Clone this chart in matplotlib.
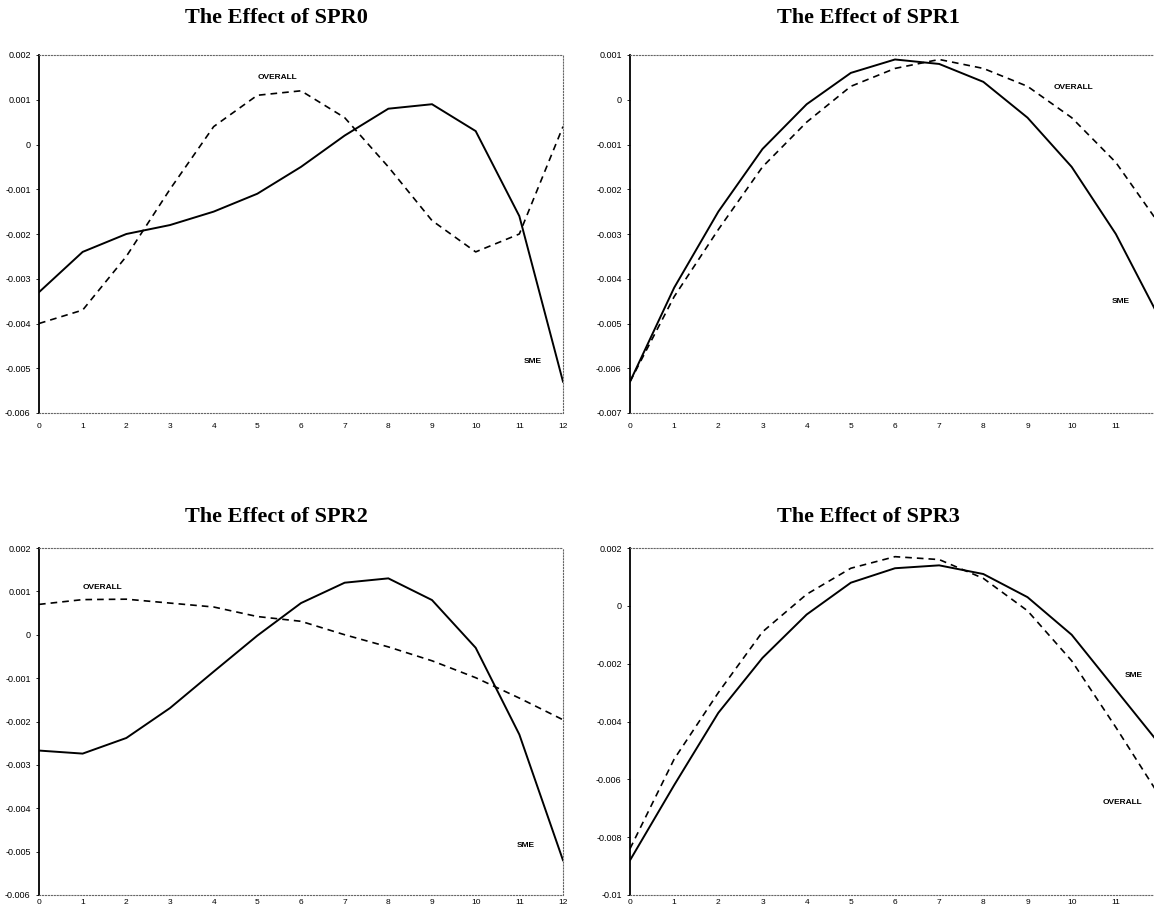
import matplotlib
matplotlib.use("Agg")
import matplotlib.pyplot as plt

months = list(range(13))

spr0_sme = [-0.0033, -0.0024, -0.0020, -0.0018, -0.0015, -0.0011, -0.0005, 0.0002, 0.0008, 0.0009, 0.0003, -0.0016, -0.0053]
spr0_overall = [-0.0040, -0.0037, -0.0025, -0.0010, 0.0004, 0.0011, 0.0012, 0.0006, -0.0005, -0.0017, -0.0024, -0.0020, 0.0004]

spr1_sme = [-0.0063, -0.0042, -0.0025, -0.0011, -0.0001, 0.0006, 0.0009, 0.0008, 0.0004, -0.0004, -0.0015, -0.0030, -0.0049]
spr1_overall = [-0.0063, -0.0044, -0.0029, -0.0015, -0.0005, 0.0003, 0.0007, 0.0009, 0.0007, 0.0003, -0.0004, -0.0014, -0.0028]

spr2_sme = [-0.00267, -0.00274, -0.00238, -0.00169, -0.00085, -0.00002, 0.00073, 0.0012, 0.0013, 0.0008, -0.0003, -0.0023, -0.0052]
spr2_overall = [0.0007, 0.00081, 0.00082, 0.00073, 0.00064, 0.00042, 0.00031, 0.0, -0.00028, -0.0006, -0.00099, -0.00146, -0.00196]

spr3_sme = [-0.0088, -0.0062, -0.0037, -0.0018, -0.0003, 0.0008, 0.0013, 0.0014, 0.0011, 0.0003, -0.0010, -0.0029, -0.0048]
spr3_overall = [-0.0084, -0.0053, -0.0030, -0.0009, 0.0004, 0.0013, 0.0017, 0.0016, 0.00095, -0.00017, -0.0019, -0.0042, -0.0066]

titles = ["The Effect of SPR0", "The Effect of SPR1", "The Effect of SPR2", "The Effect of SPR3"]
yticks = [
    [0.002, 0.001, 0, -0.001, -0.002, -0.003, -0.004, -0.005, -0.006],
    [0.001, 0, -0.001, -0.002, -0.003, -0.004, -0.005, -0.006, -0.007],
    [0.002, 0.001, 0, -0.001, -0.002, -0.003, -0.004, -0.005, -0.006],
    [0.002, 0, -0.002, -0.004, -0.006, -0.008, -0.01],
]
# the right-hand charts are cut at the page edge, so 12 has no label there
xticks = [months, months[:12], months, months[:12]]

# label positions (x, y) for OVERALL and SME
overall_pos = [(5.0, 0.0015), (9.6, 0.00028), (1.0, 0.0011), (10.7, -0.0068)]
sme_pos = [(11.1, -0.00485), (10.9, -0.0045), (10.95, -0.00485), (11.2, -0.0024)]

sme = [spr0_sme, spr1_sme, spr2_sme, spr3_sme]
overall = [spr0_overall, spr1_overall, spr2_overall, spr3_overall]

W, H = 1154, 911
fig = plt.figure(figsize=(W / 100, H / 100), dpi=100)

# axes boxes in pixels: left, top, right, bottom
boxes = [(39, 55, 563, 413), (630, 55, 1160, 413), (39, 548, 563, 895), (630, 548, 1160, 895)]
title_x = [276, 868, 276, 868]
title_y = [18, 18, 517, 517]
xpad = [7, 7, 3, 3]

for i in range(4):
    l, t, r, b = boxes[i]
    ax = fig.add_axes([l / W, 1 - b / H, (r - l) / W, (b - t) / H])
    ax.plot(months, sme[i], color="black", lw=1.4, solid_joinstyle="miter")
    ax.plot(months, overall[i], color="black", lw=1.2, linestyle=(0, (4, 3)))
    ax.set_xlim(0, 12)
    ax.set_ylim(min(yticks[i]), max(yticks[i]))
    ax.set_xticks(xticks[i])
    ax.set_xticklabels([str(m) for m in xticks[i]])
    ax.set_yticks(yticks[i])
    ax.set_yticklabels(["%g" % v for v in yticks[i]])
    ax.tick_params(axis="y", labelsize=6.5, length=2, width=0.6, pad=4)
    ax.tick_params(axis="x", labelsize=6, length=0, pad=xpad[i])
    for lab in ax.get_xticklabels() + ax.get_yticklabels():
        lab.set_family("Liberation Sans")
    ax.spines["left"].set_linewidth(1.3)
    for s in ["top", "right", "bottom"]:
        ax.spines[s].set_linestyle(":")
        ax.spines[s].set_linewidth(0.8)
        ax.spines[s].set_color("#666666")
    ax.text(overall_pos[i][0], overall_pos[i][1], "OVERALL", fontsize=6,
            fontweight="bold", family="Liberation Sans", va="center")
    ax.text(sme_pos[i][0], sme_pos[i][1], "SME", fontsize=6,
            fontweight="bold", family="Liberation Sans", va="center")
    fig.text(title_x[i] / W, 1 - title_y[i] / H, titles[i], ha="center", va="center",
             fontsize=16, fontweight="bold", family="Liberation Serif")

fig.savefig("out.png", dpi=100)
